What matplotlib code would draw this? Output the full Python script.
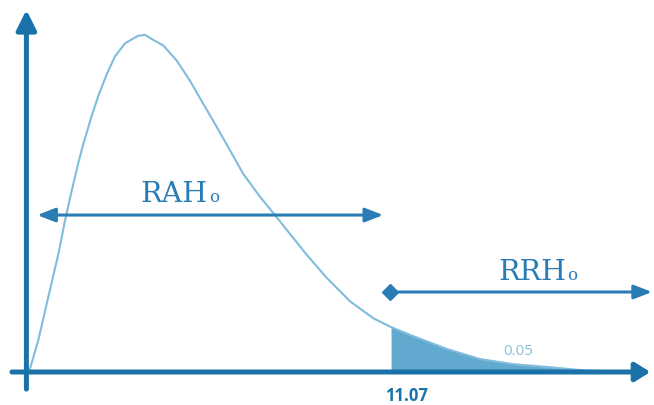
import matplotlib
matplotlib.use('Agg')
import matplotlib.pyplot as plt
import numpy as np

# chi-square curve (x in chi2 units, y density)
chi_x = [0, 0.28, 0.59, 0.90, 1.10, 1.31, 1.51, 1.66, 1.92, 2.12, 2.38, 2.63, 2.94,
         3.34, 3.55, 3.75, 4.11, 4.52, 4.92, 5.33, 5.74, 6.15, 6.55, 7.06, 7.47,
         7.98, 8.49, 9.10, 9.82, 10.53, 11.07, 11.74, 12.78, 13.79, 14.80, 15.84,
         16.85, 18.07]
density = [0, 0.0143, 0.0342, 0.0540, 0.0690, 0.0830, 0.0955, 0.1040, 0.1170, 0.1260,
           0.1360, 0.1440, 0.1500, 0.1534, 0.1538, 0.1519, 0.1489, 0.1420, 0.1329,
           0.1223, 0.1118, 0.1010, 0.0904, 0.0800, 0.0725, 0.0630, 0.0535, 0.0430,
           0.0322, 0.0245, 0.0205, 0.0164, 0.0105, 0.0059, 0.0036, 0.0023, 0.0009, 0.0]
critical = 11.07
alpha_label = '0.05'
crit_label = '11.07'
accept_label = 'RAH'
reject_label = 'RRH'

axis_col = '#1a72a8'
arrow_col = '#2a7db4'
curve_col = '#80bcdc'
fill_col = '#62a9cf'

x = np.array(chi_x)
y = np.array(density)

fig = plt.figure(figsize=(6.54, 4.06), dpi=100)
ax = fig.add_axes([0, 0, 1, 1])
ax.set_xlim(-0.887, 19.11)
ax.set_ylim(-0.01505, 0.17016)
ax.axis('off')

# shaded rejection tail
mask = x >= critical
ax.fill_between(x[mask], 0, y[mask], color=fill_col, lw=0)
ax.plot(x, y, color=curve_col, lw=1.5, solid_joinstyle='round')

# axes with arrows
ax.annotate('', xy=(19.0, 0), xytext=(-0.52, 0),
            arrowprops=dict(arrowstyle='-|>,head_length=0.45,head_width=0.28',
                            mutation_scale=20, lw=3.6, color=axis_col,
                            shrinkA=0, shrinkB=0))
ax.annotate('', xy=(-0.08, 0.1652), xytext=(-0.08, -0.0078),
            arrowprops=dict(arrowstyle='-|>,head_length=0.6,head_width=0.3',
                            mutation_scale=20, lw=3.6, color=axis_col,
                            shrinkA=0, shrinkB=0))

# acceptance region arrow
ax.annotate('', xy=(0.25, 0.0716), xytext=(10.83, 0.0716),
            arrowprops=dict(arrowstyle='<|-|>,head_length=0.9,head_width=0.35',
                            mutation_scale=12, lw=2.2, color=arrow_col,
                            shrinkA=0, shrinkB=0))
# rejection region arrow
ax.annotate('', xy=(19.05, 0.0365), xytext=(critical - 0.03, 0.0365),
            arrowprops=dict(arrowstyle='-|>,head_length=0.9,head_width=0.35',
                            mutation_scale=12, lw=2.2, color=arrow_col,
                            shrinkA=0, shrinkB=0))
ax.plot([critical - 0.03], [0.0365], marker='D', ms=8, color=arrow_col)

# labels
ax.text(3.39, 0.0780, accept_label, fontsize=20.5, family='DejaVu Serif',
        color=arrow_col, va='baseline', ha='left')
ax.text(5.50, 0.0780, 'o', fontsize=12, family='DejaVu Serif',
        color=arrow_col, va='baseline', ha='left')
ax.text(14.34, 0.0424, reject_label, fontsize=20.5, family='DejaVu Serif',
        color=arrow_col, va='baseline', ha='left')
ax.text(16.45, 0.0424, 'o', fontsize=12, family='DejaVu Serif',
        color=arrow_col, va='baseline', ha='left')

ax.text(14.5, 0.0082, alpha_label, fontsize=11, family='Open Sans',
        color='#8bbfdc', ha='left', va='baseline')
ax.text(10.9, -0.0064, crit_label, fontsize=12, family='Open Sans',
        fontweight='bold', color=axis_col, ha='left', va='top')

fig.savefig('out.png', dpi=100)
